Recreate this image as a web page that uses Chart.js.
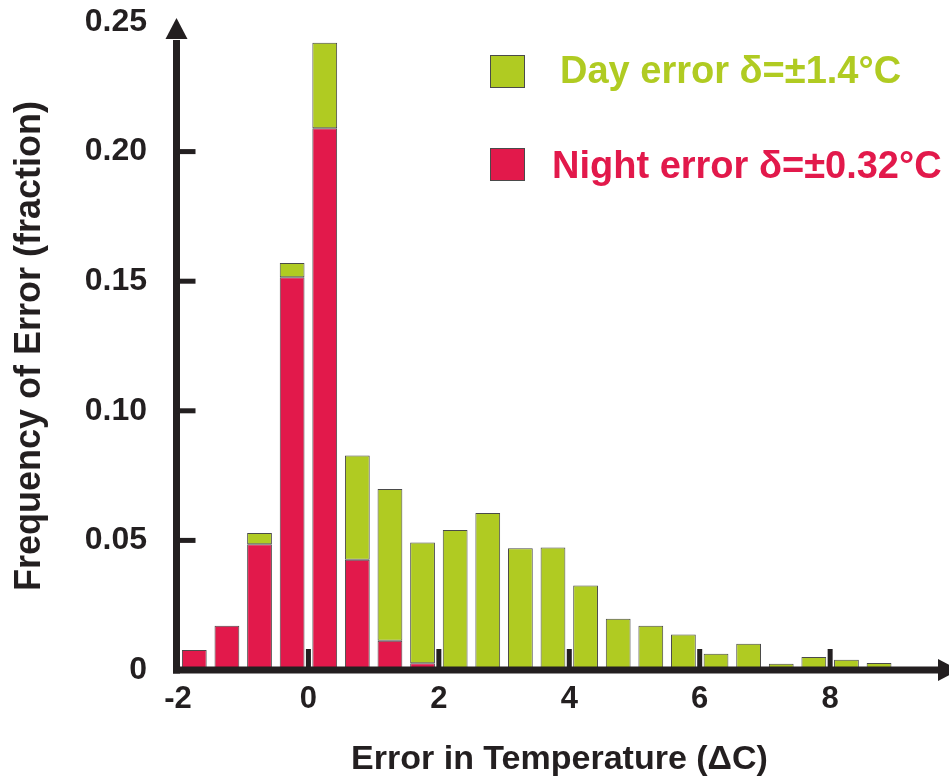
<!DOCTYPE html>
<html lang="en">
<head>
    <meta charset="UTF-8">
    <meta name="viewport" content="width=device-width, initial-scale=1.0">
    <title>Frequency of Error</title>
    <script src="https://cdn.jsdelivr.net/npm/chart.js"></script>
    <style>
        body { margin: 0; background: #fff; }
        #wrap { width: 949px; height: 777px; }
    </style>
</head>
<body>
    <div id="wrap"><canvas id="myChart"></canvas></div>

    <script>
        // bin centres in degC (each bin is 0.5 wide)
        var binCenters = [-1.75, -1.25, -0.75, -0.25, 0.25, 0.75, 1.25, 1.75, 2.25, 2.75, 3.25,
                          3.75, 4.25, 4.75, 5.25, 5.75, 6.25, 6.75, 7.25, 7.75, 8.25, 8.75];
        // night part of each bar (red, bottom of the stack)
        var nightValues = [0.0077, 0.0171, 0.0485, 0.1515, 0.209, 0.0425, 0.0113, 0.0026, null, null, null,
                           null, null, null, null, null, null, null, null, null, null, null];
        // day part of each bar (green, stacked on the night part)
        var dayValues = [null, null, 0.0044, 0.0055, 0.033, 0.0403, 0.0585, 0.0466, 0.054, 0.0606, 0.047,
                         0.0473, 0.0326, 0.0198, 0.0171, 0.0137, 0.0063, 0.0101, 0.0024, 0.005, 0.004, 0.0027];
        var seriesNames = ['Day error δ=±1.4°C', 'Night error δ=±0.32°C'];
        var xTickValues = [-2, 0, 2, 4, 6, 8];
        var yTickValues = [0, 0.05, 0.10, 0.15, 0.20, 0.25];

        var FONT = '"Liberation Sans", Arial, Helvetica, sans-serif';
        var INK = '#231f20';
        var GREEN = '#b0cb22';
        var RED = '#e2194b';

        function points(values) {
            return binCenters.map((c, i) => ({ x: c, y: values[i] }));
        }

        // thick axes with arrow heads and short inward tick marks
        const axisArrows = {
            id: 'axisArrows',
            afterDatasetsDraw(chart) {
                const { ctx, chartArea: a, scales: { x, y } } = chart;
                const y0 = y.getPixelForValue(0);
                const xl = x.getPixelForValue(x.min) - 1.5;
                ctx.save();
                ctx.fillStyle = INK;
                ctx.strokeStyle = INK;
                ctx.lineWidth = 7;
                ctx.beginPath();
                ctx.moveTo(xl, y0 + 3.5);
                ctx.lineTo(xl, a.top + 18);
                ctx.stroke();
                ctx.beginPath();
                ctx.moveTo(xl - 3.5, y0);
                ctx.lineTo(a.right, y0);
                ctx.stroke();
                // arrow heads
                ctx.beginPath();
                ctx.moveTo(xl - 11, a.top + 17);
                ctx.lineTo(xl, a.top - 4);
                ctx.lineTo(xl + 11, a.top + 17);
                ctx.closePath();
                ctx.fill();
                ctx.beginPath();
                ctx.moveTo(a.right - 3, y0 - 11);
                ctx.lineTo(a.right + 18, y0);
                ctx.lineTo(a.right - 3, y0 + 11);
                ctx.closePath();
                ctx.fill();
                // tick marks
                y.ticks.forEach(t => {
                    if (t.value > 0 && t.value < y.max) {
                        ctx.fillRect(xl, y.getPixelForValue(t.value) - 2.5, 19, 5);
                    }
                });
                x.ticks.forEach(t => {
                    if (t.value > x.min) {
                        ctx.fillRect(x.getPixelForValue(t.value) - 2.5, y0 - 21, 5, 21);
                    }
                });
                ctx.restore();
            }
        };

        // legend inside the plot, text coloured like the bars
        const boxLegend = {
            id: 'boxLegend',
            afterDraw(chart) {
                const ctx = chart.ctx;
                const rows = [
                    { ds: chart.data.datasets[1], top: 55, textX: 560, base: 83 },
                    { ds: chart.data.datasets[0], top: 148, textX: 552, base: 178 }
                ];
                ctx.save();
                ctx.font = 'bold 38px ' + FONT;
                ctx.textBaseline = 'alphabetic';
                rows.forEach(r => {
                    ctx.fillStyle = r.ds.backgroundColor;
                    ctx.fillRect(490, r.top, 35, 33);
                    ctx.strokeStyle = '#4a4a4a';
                    ctx.lineWidth = 1;
                    ctx.strokeRect(490.5, r.top + 0.5, 34, 32);
                    ctx.fillText(r.ds.label, r.textX, r.base);
                });
                ctx.restore();
            }
        };

        var ctx = document.getElementById('myChart').getContext('2d');
        var myChart = new Chart(ctx, {
            type: 'bar',
            data: {
                datasets: [
                    {
                        label: seriesNames[1],
                        data: points(nightValues),
                        backgroundColor: RED,
                        borderColor: '#4a4a4a',
                        borderWidth: 1,
                        borderSkipped: false,
                        barPercentage: 0.76,
                        categoryPercentage: 1.0
                    },
                    {
                        label: seriesNames[0],
                        data: points(dayValues),
                        backgroundColor: GREEN,
                        borderColor: '#4a4a4a',
                        borderWidth: 1,
                        borderSkipped: false,
                        barPercentage: 0.76,
                        categoryPercentage: 1.0
                    }
                ]
            },
            options: {
                responsive: true,
                maintainAspectRatio: false,
                animation: false,
                layout: { padding: { top: 22, right: 8, left: 0, bottom: 0 } },
                plugins: {
                    legend: { display: false },
                    tooltip: { enabled: false }
                },
                scales: {
                    x: {
                        type: 'linear',
                        stacked: true,
                        offset: false,
                        min: -2,
                        max: 9.7,
                        afterBuildTicks: s => { s.ticks = xTickValues.map(v => ({ value: v })); },
                        afterFit: s => { s.height = 107; },
                        grid: { display: false, drawTicks: true, tickLength: 11, offset: false },
                        border: { display: false },
                        ticks: {
                            padding: 0,
                            color: INK,
                            font: { family: FONT, size: 31, weight: 'bold' }
                        },
                        title: {
                            display: true,
                            text: 'Error in Temperature (ΔC)',
                            color: INK,
                            padding: { top: 0, bottom: 0 },
                            font: { family: FONT, size: 34, weight: 'bold', lineHeight: 1 }
                        }
                    },
                    y: {
                        stacked: true,
                        min: 0,
                        max: 0.25,
                        afterBuildTicks: s => { s.ticks = yTickValues.map(v => ({ value: v })); },
                        afterFit: s => { s.width = 178; },
                        grid: { display: false, drawTicks: true, tickLength: 31 },
                        border: { display: false },
                        ticks: {
                            padding: 0,
                            color: INK,
                            font: { family: FONT, size: 32, weight: 'bold' },
                            callback: v => v === 0 ? '0' : v.toFixed(2)
                        },
                        title: {
                            display: true,
                            text: 'Frequency of Error (fraction)',
                            color: INK,
                            padding: { top: 12, bottom: 0 },
                            font: { family: FONT, size: 36, weight: 'bold', lineHeight: 1 }
                        }
                    }
                }
            },
            plugins: [axisArrows, boxLegend]
        });
    </script>
</body>
</html>
